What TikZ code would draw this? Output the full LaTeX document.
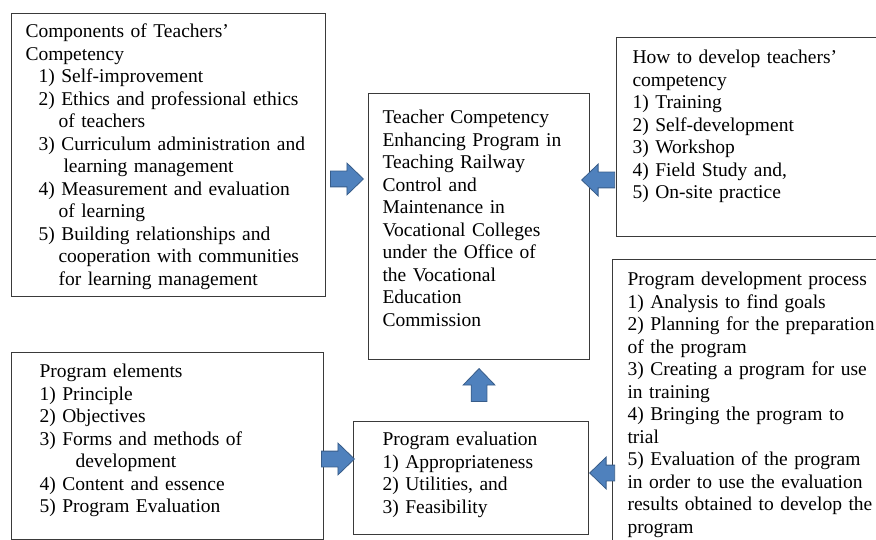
\documentclass[tikz,border=0pt]{standalone}
\usepackage{fontspec}
\setmainfont{Liberation Serif}
\usetikzlibrary{shapes.arrows,positioning,calc}
\definecolor{arrowfill}{HTML}{4F81BD}
\definecolor{arrowline}{HTML}{385D8A}
\definecolor{boxline}{HTML}{3A3A3A}
\newcommand{\boxfont}{\fontsize{19.5}{22.5}\selectfont}
\newcommand{\ind}[1]{\hspace*{#1pt}}
\tikzset{
  box/.style={
    draw=boxline,
    line width=1.1pt,
    anchor=north west,
    align=left,
    inner ysep=0pt,
    font=\boxfont
  },
  fatarrow/.style={
    single arrow,
    draw=arrowline,
    fill=arrowfill,
    line width=0.8pt,
    inner xsep=0pt,
    inner ysep=7.5pt,
    minimum height=33pt,
    minimum width=31pt,
    single arrow head extend=8pt,
    single arrow tip angle=88,
    anchor=tip
  }
}

\begin{document}
\begin{tikzpicture}[x=1pt, y=-1pt]
  \useasboundingbox (0,0) rectangle (876,540);
  \clip (0,0) rectangle (876,540);
  % the boxes
  \node[box, text width=286pt, inner xsep=14pt, text height=24pt, text depth=259pt] (comp) at (11,13)
    {Components of Teachers’\\
     Competency\\
     \ind{13}1) Self-improvement\\
     \ind{13}2) Ethics and professional ethics\\
     \ind{33}of teachers\\
     \ind{13}3) Curriculum administration and\\
     \ind{38}learning management\\
     \ind{13}4) Measurement and evaluation\\
     \ind{33}of learning\\
     \ind{13}5) Building relationships and\\
     \ind{33}cooperation with communities\\
     \ind{33}for learning management};
  \node[box, text width=193pt, inner xsep=14pt, text height=30pt, text depth=236pt] (goal) at (368,93)
    {Teacher Competency\\
     Enhancing Program in\\
     Teaching Railway\\
     Control and\\
     Maintenance in\\
     Vocational Colleges\\
     under the Office of\\
     the Vocational\\
     Education\\
     Commission};
  \node[box, text width=252pt, inner xsep=16pt, text height=26pt, text depth=173pt] (ways) at (616,37)
    {How to develop teachers’\\
     competency\\
     1) Training\\
     2) Self-development\\
     3) Workshop\\
     4) Field Study and,\\
     5) On-site practice};
  \node[box, text width=258pt, inner xsep=15pt, text height=26pt, text depth=275pt] (process) at (612,259)
    {Program development process\\
     1) Analysis to find goals\\
     2) Planning for the preparation\\
     of the program\\
     3) Creating a program for use\\
     in training\\
     4) Bringing the program to\\
     trial\\
     5) Evaluation of the program\\
     in order to use the evaluation\\
     results obtained to develop the\\
     program};
  \node[box, text width=256pt, inner xsep=28pt, text height=25pt, text depth=162pt] (elements) at (11,352)
    {Program elements\\
     1) Principle\\
     2) Objectives\\
     3) Forms and methods of\\
     \ind{36}development\\
     4) Content and essence\\
     5) Program Evaluation};
  \node[box, text width=177pt, inner xsep=29pt, text height=24pt, text depth=89pt] (evaluation) at (353,421)
    {Program evaluation\\
     1) Appropriateness\\
     2) Utilities, and\\
     3) Feasibility};
  % block arrows into the middle boxes
  \node[fatarrow] (compArrow) at ([xshift=-4]goal.west |- 0,179) {};
  \node[fatarrow, shape border rotate=180] (waysArrow) at ([xshift=-9]goal.east |- 0,180) {};
  \node[fatarrow, rotate=90] (evalArrow) at (goal.south |- 0,368) {};
  \node[fatarrow] (elemArrow) at ([xshift=2]evaluation.west |- 0,459) {};
  \node[fatarrow, shape border rotate=180, minimum height=25pt] (procArrow) at (evaluation.east |- 0,473) {};
\end{tikzpicture}
\end{document}
